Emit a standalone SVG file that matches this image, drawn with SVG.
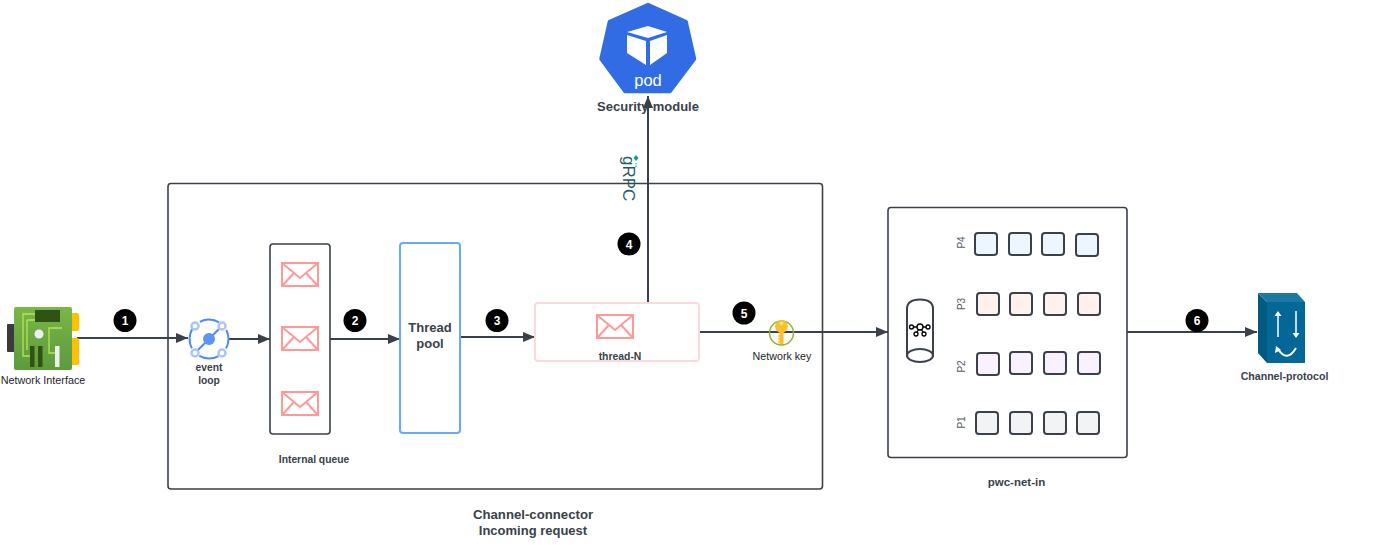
<svg xmlns="http://www.w3.org/2000/svg" width="1375" height="548" viewBox="0 0 1375 548">
<style>
text{font-family:"Liberation Sans",Arial,sans-serif;fill:#3a414a}
.b{font-weight:700}
.m{text-anchor:middle}
.dark{fill:#1f2328}
.box{fill:#fff;stroke:#3a414a;stroke-width:1.6}
.c{fill:none;stroke:#3a414a;stroke-width:2}
.num{fill:#000}
.numt{fill:#fff;font-weight:700;font-size:12px;text-anchor:middle}
.env rect{fill:#fff;stroke:#f99;stroke-width:2}
.env path{fill:none;stroke:#f99;stroke-width:2}
.tile{stroke:#3a414a;stroke-width:2}
.p{font-size:10px;text-anchor:middle;fill:#555b63}
</style>
<defs>
<marker id="a" markerUnits="userSpaceOnUse" markerWidth="12" markerHeight="11" refX="12" refY="5.500" orient="auto"><path d="M0 0.500L12 5.500L0 10.500z" fill="#3a414a"/></marker>
<g id="env" class="env"><rect x="0" y="0" width="36" height="23"/><path d="M0 0L18 15L36 0M0 23L12 10M36 23L24 10"/></g>
<linearGradient id="card" x1="0" y1="0" x2="0" y2="1"><stop offset="0" stop-color="#7ab648"/><stop offset="1" stop-color="#5c9a3e"/></linearGradient>
</defs>
<rect width="1375" height="548" fill="#fff"/>
<g id="channel-connector"><rect class="box" x="168" y="183.500" width="654.500" height="305.500" rx="3"/>
<text class="b m" x="533" y="519" font-size="13.200">Channel-connector</text>
<text class="b m" x="533" y="535" font-size="13">Incoming request</text></g>
<g id="security-module">
<path d="M648 4.500L686 21.500L694.500 59L670 91.500H625L601 59L609.500 21.500Z" fill="#326ce5" stroke="#326ce5" stroke-width="3.500" stroke-linejoin="round"/>
<path d="M648 26L667 32L648 38L627 32ZM627 35L646 41V65L627 53ZM650 41L667 35V53L650 65Z" fill="#fff"/>
<text class="m" x="648" y="86" font-size="16.500" style="fill:#fff">pod</text>
<text class="b m" x="648" y="111" font-size="13">Security-module</text>
</g>
<g id="connectors">
<path class="c" d="M77 338H188" marker-end="url(#a)"/>
<path class="c" d="M229 339H270" marker-end="url(#a)"/>
<path class="c" d="M330 339H400" marker-end="url(#a)"/>
<path class="c" d="M461 337H535" marker-end="url(#a)"/>
<path class="c" d="M648 303V96" marker-end="url(#a)"/>
<path class="c" d="M700 332H888" marker-end="url(#a)"/>
<path class="c" d="M1127 332H1257" marker-end="url(#a)"/>
</g>
<g id="network-interface">
<rect x="7" y="324" width="8" height="28" rx="1" fill="#3a3a3a"/>
<rect x="70" y="313" width="9" height="18" rx="2" fill="#ffc000"/>
<rect x="70" y="338" width="9" height="27" rx="2" fill="#ffc000"/>
<rect x="14" y="307" width="58" height="63" rx="2" fill="url(#card)"/>
<rect x="35" y="310" width="25" height="12" fill="#2f5312"/>
<path d="M35 314H23V356H30M27 320H35M27 320V350M62 328H49V353H58" fill="none" stroke="#b5e550" stroke-width="1.300"/>
<circle cx="39" cy="334" r="4.500" fill="#eee"/>
<rect x="30" y="346" width="4.500" height="21" fill="#2f5312"/><rect x="38" y="346" width="4.500" height="21" fill="#2f5312"/>
<rect x="55" y="346" width="4.500" height="21" fill="#eee"/>
<text class="m dark" x="43" y="384" font-size="10.800">Network Interface</text></g>
<g id="event-loop">
<circle cx="209" cy="339" r="19.500" fill="none" stroke="#4b8bf0" stroke-width="2" stroke-dasharray="20 10.600" stroke-dashoffset="10"/>
<path d="M195 353L223 325" stroke="#4b8bf0" stroke-width="2"/>
<circle cx="209" cy="339" r="6" fill="#5a96f2"/>
<g fill="#fff" stroke="#a9c6f7" stroke-width="2.500"><circle cx="195" cy="326" r="3.500"/><circle cx="222" cy="326" r="3.500"/><circle cx="195" cy="353" r="3.500"/><circle cx="222" cy="353" r="3.500"/></g>
<text class="b m" x="209" y="371" font-size="10.300">event</text>
<text class="b m" x="209" y="384" font-size="10.300">loop</text></g>
<g id="internal-queue"><rect class="box" x="270" y="244" width="60" height="190" rx="3"/>
<use href="#env" x="282" y="263"/><use href="#env" x="282" y="327"/><use href="#env" x="282" y="392"/>
<text class="b m" x="314" y="463" font-size="10.300">Internal queue</text></g>
<g id="thread-pool"><rect x="400" y="243" width="60" height="190" rx="3" fill="#fff" stroke="#6aa9f5" stroke-width="2"/>
<text class="b m" x="430" y="332" font-size="13">Thread</text>
<text class="b m" x="430" y="348" font-size="13">pool</text></g>
<g id="thread-n"><rect x="535" y="303" width="164" height="58" rx="3" fill="#fff" stroke="#fadadd" stroke-width="2"/>
<use href="#env" x="597" y="315"/>
<text class="b m" x="620" y="360" font-size="10.400">thread-N</text></g>
<g id="grpc"><text transform="translate(623 156) rotate(90)" font-size="17" style="fill:#1f5c66">gRPC</text><path d="M636 155l2.500 3-2.500 3-2.500-3z" fill="#1a9a8c"/><path d="M636 163v4" stroke="#1a9a8c" stroke-width="1" stroke-dasharray="1.500 1"/></g>
<g id="network-key"><circle cx="781.500" cy="333" r="12" fill="none" stroke="#8db82e" stroke-width="1.500"/>
<circle cx="781.500" cy="326.500" r="6.500" fill="#fbc02d"/><circle cx="781.500" cy="323.500" r="1.800" fill="#fde58a"/><path d="M779.500 331h4v13h-4z" fill="#fbc02d"/><path d="M778 336h2M778 339h2M778 342h2" stroke="#fbc02d" stroke-width="1.500"/>
<text class="m dark" x="782" y="360" font-size="10.700">Network key</text></g>
<g id="pwc-net-in"><rect class="box" x="888" y="207.500" width="239" height="250" rx="3"/>
<path d="M907 309Q907 299.500 920 299.500Q933 299.500 933 309V355.500H907Z" fill="#fff" stroke="#3a414a" stroke-width="2"/>
<ellipse cx="920" cy="355.500" rx="13" ry="6.500" fill="#fff" stroke="#3a414a" stroke-width="2"/>
<g fill="#fff" stroke="#000" stroke-width="1.300"><path d="M912 327H928M916 334L920 327L924 334"/><circle cx="911.500" cy="327" r="2"/><circle cx="920" cy="327" r="3"/><circle cx="928" cy="327" r="2"/><circle cx="916" cy="334" r="2"/><circle cx="924" cy="334" r="2"/></g>
<text class="p" transform="translate(965 242.500) rotate(-90)">P4</text>
<text class="p" transform="translate(965 304) rotate(-90)">P3</text>
<text class="p" transform="translate(965 366.500) rotate(-90)">P2</text>
<text class="p" transform="translate(965 422.500) rotate(-90)">P1</text>
<g fill="#edf5ff"><rect class="tile" x="975" y="233" width="22" height="22" rx="3"/><rect class="tile" x="1009" y="233" width="22" height="22" rx="3"/><rect class="tile" x="1042" y="233" width="22" height="22" rx="3"/><rect class="tile" x="1076" y="234" width="22" height="22" rx="3"/></g>
<g fill="#fff1ee"><rect class="tile" x="977" y="293" width="22" height="22" rx="3"/><rect class="tile" x="1010" y="293" width="22" height="22" rx="3"/><rect class="tile" x="1044" y="293" width="22" height="22" rx="3"/><rect class="tile" x="1078" y="293" width="22" height="22" rx="3"/></g>
<g fill="#fbf0ff"><rect class="tile" x="977" y="353" width="22" height="22" rx="3"/><rect class="tile" x="1010" y="352" width="22" height="22" rx="3"/><rect class="tile" x="1044" y="352" width="22" height="22" rx="3"/><rect class="tile" x="1078" y="352" width="22" height="22" rx="3"/></g>
<g fill="#f2f3f5"><rect class="tile" x="976" y="412" width="22" height="22" rx="3"/><rect class="tile" x="1010" y="412" width="22" height="22" rx="3"/><rect class="tile" x="1044" y="412" width="22" height="22" rx="3"/><rect class="tile" x="1077" y="412" width="22" height="22" rx="3"/></g>
<text class="b m" x="1016.500" y="486" font-size="11.500">pwc-net-in</text></g>
<g id="channel-protocol">
<path d="M1258 293L1267 302V363L1258 353Z" fill="#035a80"/>
<path d="M1258 293H1297L1305 302H1267Z" fill="#1b7aa3"/>
<rect x="1267" y="302" width="38" height="61" fill="#036897"/>
<g fill="none" stroke="#fff" stroke-width="1.500"><path d="M1278 337V314M1296 311V335"/><path d="M1278 349Q1287 363 1296 348" stroke-width="2"/></g>
<path d="M1278 311l-3.500 5h7zM1296 338l-3.500-5h7zM1276 346l-1 7 6-3z" fill="#fff"/>
<text class="b m" x="1284.500" y="380" font-size="10.600">Channel-protocol</text></g>
<g id="step-1"><circle class="num" cx="125" cy="320.500" r="11.500"/><text class="numt" x="125" y="325">1</text></g>
<g id="step-2"><circle class="num" cx="355" cy="320.500" r="11.500"/><text class="numt" x="355" y="325">2</text></g>
<g id="step-3"><circle class="num" cx="497" cy="320.500" r="11.500"/><text class="numt" x="497" y="325">3</text></g>
<g id="step-4"><circle class="num" cx="629" cy="244" r="11.500"/><text class="numt" x="629" y="248.500">4</text></g>
<g id="step-5"><circle class="num" cx="744" cy="313" r="11.500"/><text class="numt" x="744" y="317.500">5</text></g>
<g id="step-6"><circle class="num" cx="1197" cy="320.500" r="11.500"/><text class="numt" x="1197" y="325">6</text></g>
</svg>
